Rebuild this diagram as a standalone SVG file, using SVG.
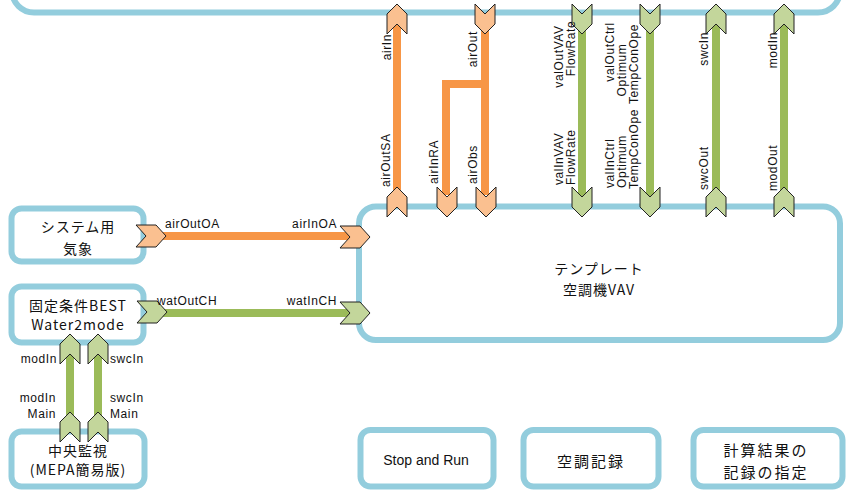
<svg xmlns="http://www.w3.org/2000/svg" width="846" height="490" viewBox="0 0 846 490">
<style>
.box{fill:#fff;stroke:#93CDDD;stroke-width:6}
.ol{fill:none;stroke:#F79646;stroke-width:8}
.gl{fill:none;stroke:#9BBB59;stroke-width:8}
.oc{fill:#FAC090;stroke:#222;stroke-width:1}
.gc{fill:#C3D69B;stroke:#222;stroke-width:1}
.lbl{font-family:"Liberation Sans",Arial,sans-serif;font-size:12px;letter-spacing:0.6px;fill:#111}
.jp{font-family:"Noto Sans CJK JP","Noto Sans",sans-serif;font-size:14px;letter-spacing:1px;fill:#111;text-anchor:middle}
.jpb{font-family:"Noto Sans CJK JP","Noto Sans",sans-serif;font-size:15px;letter-spacing:2px;fill:#111;text-anchor:middle}
.en{font-family:"Liberation Sans",Arial,sans-serif;font-size:14px;fill:#111;text-anchor:middle}
.s{text-anchor:start}.e{text-anchor:end}.m{text-anchor:middle}
</style>
<defs>
<path id="chU" d="M0,-15 L10,-5 L10,15 L0,5 L-10,15 L-10,-5 Z"/>
<path id="chD" d="M-10,-15 L0,-5 L10,-15 L10,5 L0,15 L-10,5 Z"/>
<path id="chR" d="M-15,-11 L5,-11 L15,0 L5,11 L-15,11 L-5,0 Z"/>
</defs>
<rect width="846" height="490" fill="#fff"/>

<g id="top-node"><rect class="box" x="12" y="-60" width="828" height="72.5" rx="22"/></g>

<g id="template-vav">
<rect class="box" x="359" y="206.5" width="481" height="133.5" rx="17"/>
<text class="jp" x="599" y="274">テンプレート</text>
<text class="jp" x="599" y="295">空調機VAV</text>
</g>

<g id="system-weather">
<rect class="box" x="11.5" y="208.5" width="132" height="53" rx="10"/>
<text class="jp" x="78" y="232">システム用</text>
<text class="jp" x="78" y="254">気象</text>
</g>

<g id="fixed-best">
<rect class="box" x="11.5" y="286.5" width="132" height="56" rx="10"/>
<text class="jp" x="78" y="311">固定条件BEST</text>
<text class="jp" x="78" y="330">Water2mode</text>
</g>

<g id="central-monitor">
<rect class="box" x="11.5" y="431.5" width="133" height="55" rx="10"/>
<text class="jp" x="78" y="456">中央監視</text>
<text class="jp" x="78" y="475">(MEPA簡易版)</text>
</g>

<g id="stop-run">
<rect class="box" x="360.5" y="430" width="133" height="56.5" rx="10"/>
<text class="en" x="426" y="465">Stop and Run</text>
</g>

<g id="ac-record">
<rect class="box" x="523.5" y="430" width="135" height="56.5" rx="10"/>
<text class="jpb" x="591" y="467">空調記録</text>
</g>

<g id="calc-record">
<rect class="box" x="693.5" y="430" width="149" height="56.5" rx="10"/>
<text class="jpb" x="766" y="456">計算結果の</text>
<text class="jpb" x="766" y="478">記録の指定</text>
</g>

<g id="connectors">
<path class="ol" d="M397,24 V195"/>
<path class="ol" d="M485,15 V195"/>
<path class="ol" d="M485,84 H446 V195"/>
<path class="gl" d="M582,19 V200"/>
<path class="gl" d="M650,19 V200"/>
<path class="gl" d="M716,24 V200"/>
<path class="gl" d="M784,24 V200"/>
<path class="ol" d="M151,236 H355" stroke-width="7"/>
<path class="gl" d="M151,313 H355"/>
<path class="gl" d="M70,349 V427"/>
<path class="gl" d="M98,349 V427"/>

<use href="#chU" class="oc" x="397" y="19"/>
<use href="#chD" class="oc" x="485" y="19"/>
<use href="#chD" class="gc" x="582" y="19"/>
<use href="#chD" class="gc" x="650" y="19"/>
<use href="#chU" class="gc" x="716" y="19"/>
<use href="#chU" class="gc" x="784" y="19"/>

<use href="#chU" class="oc" x="397" y="202"/>
<use href="#chD" class="oc" x="447" y="202"/>
<use href="#chD" class="oc" x="486" y="202"/>
<use href="#chD" class="gc" x="582" y="202"/>
<use href="#chD" class="gc" x="650" y="202"/>
<use href="#chU" class="gc" x="716" y="202"/>
<use href="#chU" class="gc" x="784" y="202"/>

<use href="#chR" class="oc" x="151" y="236"/>
<use href="#chR" class="oc" x="355" y="237"/>
<use href="#chR" class="gc" x="152" y="312"/>
<use href="#chR" class="gc" x="355" y="313"/>

<use href="#chU" class="gc" x="70" y="349"/>
<use href="#chU" class="gc" x="98" y="349"/>
<use href="#chU" class="gc" x="70" y="427"/>
<use href="#chU" class="gc" x="98" y="427"/>

<text class="lbl e" transform="translate(391,34) rotate(-90)">airIn</text>
<text class="lbl e" transform="translate(477,31) rotate(-90)">airOut</text>
<text class="lbl m" transform="translate(563,56.5) rotate(-90)">valOutVAV</text>
<text class="lbl m" transform="translate(575,48.5) rotate(-90)">FlowRate</text>
<text class="lbl m" transform="translate(614,52) rotate(-90)">valOutCtrl</text>
<text class="lbl m" transform="translate(626,70) rotate(-90)">Optimum</text>
<text class="lbl m" transform="translate(638,64) rotate(-90)">TempConOpe</text>
<text class="lbl e" transform="translate(708,32) rotate(-90)">swcIn</text>
<text class="lbl e" transform="translate(777,32) rotate(-90)">modIn</text>

<text class="lbl s" transform="translate(390,187) rotate(-90)">airOutSA</text>
<text class="lbl s" transform="translate(438,184) rotate(-90)">airInRA</text>
<text class="lbl s" transform="translate(477,184) rotate(-90)">airObs</text>
<text class="lbl s" transform="translate(563,185) rotate(-90)">valInVAV</text>
<text class="lbl s" transform="translate(575,185) rotate(-90)">FlowRate</text>
<text class="lbl s" transform="translate(614,188) rotate(-90)">valInCtrl</text>
<text class="lbl s" transform="translate(626,188) rotate(-90)">Optimum</text>
<text class="lbl s" transform="translate(638,189) rotate(-90)">TempConOpe</text>
<text class="lbl s" transform="translate(708,190) rotate(-90)">swcOut</text>
<text class="lbl s" transform="translate(777,191) rotate(-90)">modOut</text>

<text class="lbl s" x="165" y="228">airOutOA</text>
<text class="lbl e" x="337" y="228">airInOA</text>
<text class="lbl s" x="157" y="305">watOutCH</text>
<text class="lbl e" x="337" y="305">watInCH</text>

<text class="lbl e" x="57" y="363">modIn</text>
<text class="lbl s" x="110" y="363">swcIn</text>
<text class="lbl e" x="56" y="402">modIn</text>
<text class="lbl e" x="56" y="418">Main</text>
<text class="lbl s" x="110" y="402">swcIn</text>
<text class="lbl s" x="110" y="418">Main</text>
</g>
</svg>
